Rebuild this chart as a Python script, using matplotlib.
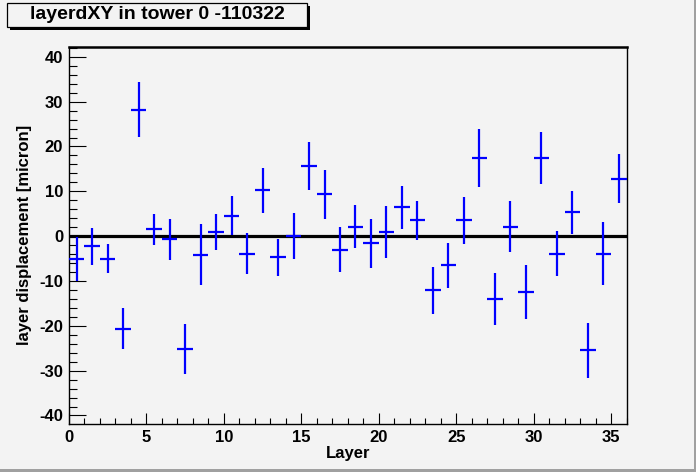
import matplotlib
matplotlib.use("Agg")
import matplotlib.pyplot as plt
from matplotlib.patches import Rectangle
from matplotlib.ticker import MultipleLocator

plt.rcParams['font.family'] = ['Liberation Sans', 'DejaVu Sans']
plt.rcParams['axes.unicode_minus'] = False

layers = [i + 0.5 for i in range(36)]
displacement = [-5.0, -2.3, -5.0, -20.6, 28.2, 1.5, -0.7, -25.2, -4.1, 1.0,
                4.6, -3.9, 10.2, -4.75, 0.0, 15.7, 9.3, -3.0, 2.15, -1.6,
                1.0, 6.4, 3.5, -12.1, -6.5, 3.5, 17.5, -14.1, 2.15, -12.5,
                17.5, -3.9, 5.3, -25.5, -3.9, 12.8]
errors = [4.9, 4.2, 3.3, 4.6, 6.1, 3.5, 4.6, 5.6, 6.8, 4.0,
          4.3, 4.6, 5.1, 4.1, 5.1, 5.3, 5.5, 5.0, 4.8, 5.5,
          5.8, 4.7, 4.3, 5.3, 5.0, 5.2, 6.5, 5.8, 5.7, 6.0,
          5.8, 5.1, 4.8, 6.2, 7.1, 5.5]
bin_half_width = 0.5

title = "layerdXY in tower 0 -110322"
xlabel = "Layer"
ylabel = "layer displacement [micron]"

W, H = 696, 472
bg = '#f3f3f3'
fig = plt.figure(figsize=(W / 100, H / 100), dpi=100, facecolor=bg)

# canvas bevel
fig.patches.append(Rectangle((0, 0), 1, 3 / H, transform=fig.transFigure,
                             facecolor='#a0a0a0', edgecolor='none', zorder=0))
fig.patches.append(Rectangle((1 - 2 / W, 0), 2 / W, 1, transform=fig.transFigure,
                             facecolor='#a0a0a0', edgecolor='none', zorder=0))

ax = fig.add_axes([69 / W, 1 - 424 / H, 557.5 / W, 377.5 / H])
ax.set_facecolor(bg)

ax.errorbar(layers, displacement, xerr=bin_half_width, yerr=errors, fmt='none',
            ecolor='#0000ff', elinewidth=1.6, capsize=0, zorder=3)
ax.axhline(0, color='black', lw=2.3, zorder=2)

ax.set_xlim(0, 36)
ax.set_ylim(-41.9, 42.3)

ax.xaxis.set_major_locator(MultipleLocator(5))
ax.xaxis.set_minor_locator(MultipleLocator(1))
ax.yaxis.set_major_locator(MultipleLocator(10))
ax.yaxis.set_minor_locator(MultipleLocator(2))

ax.tick_params(axis='both', which='both', direction='in', top=False, right=False,
               width=0.8, labelsize=12, pad=4.3)
ax.tick_params(axis='y', which='major', length=12.2)
ax.tick_params(axis='y', which='minor', length=5.8)
ax.tick_params(axis='x', which='major', length=8)
ax.tick_params(axis='x', which='minor', length=4.3)
for lab in ax.get_xticklabels() + ax.get_yticklabels():
    lab.set_fontweight('bold')

for s in ax.spines.values():
    s.set_linewidth(1.0)
ax.spines['top'].set_linewidth(1.8)

ax.set_xlabel(xlabel, fontsize=12, fontweight='bold')
ax.set_ylabel(ylabel, fontsize=12, fontweight='bold')
ax.xaxis.set_label_coords(0.5, -0.079)
ax.yaxis.set_label_coords(-0.079, 0.5)
ax.xaxis.label.set_va('center')
ax.yaxis.label.set_va('center')

# title box with shadow
fig.patches.append(Rectangle((10 / W, 1 - 29.5 / H), 300 / W, 24 / H, transform=fig.transFigure,
                             facecolor='black', edgecolor='none', zorder=5))
fig.patches.append(Rectangle((7 / W, 1 - 27 / H), 300 / W, 24 / H, transform=fig.transFigure,
                             facecolor=bg, edgecolor='black', linewidth=0.9, zorder=6))
fig.text(157 / W, 1 - 14.5 / H, title, fontsize=14, fontweight='bold',
         ha='center', va='center', zorder=7)

fig.savefig('out.png', dpi=100, facecolor=bg)
